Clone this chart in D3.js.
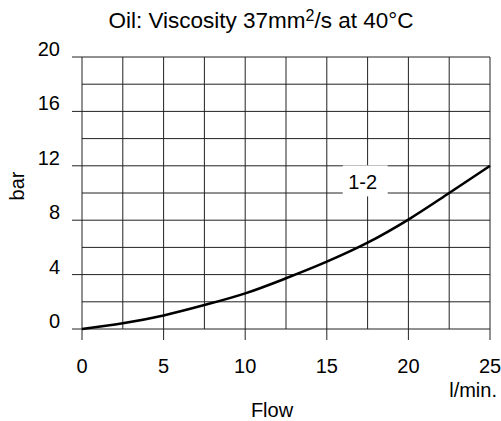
<!DOCTYPE html>
<html>
<head>
<meta charset="utf-8">
<script src="https://cdn.jsdelivr.net/npm/d3@7"></script>
<style>
  html, body { margin: 0; padding: 0; background: #fff; }
  svg { display: block; }
  text { font-family: "Liberation Sans", Arial, sans-serif; fill: #000; }
</style>
</head>
<body>
<script>
// ---- data ----
const flow = [0, 2.5, 5, 7.5, 10, 12.5, 15, 17.5, 20, 22.5, 25];
const pressure = [0, 0.42, 1.0, 1.76, 2.62, 3.73, 4.95, 6.35, 8.05, 10.0, 12.0];
const xTicks = [0, 5, 10, 15, 20, 25];
const xMinor = [2.5, 7.5, 12.5, 17.5, 22.5];
const yTicks = [0, 4, 8, 12, 16, 20];
const yMinor = [2, 6, 10, 14, 18];
const curveLabel = ["1-2"];
const curveLabelPos = [17.2, 11.0];

const W = 501, H = 421;
const svg = d3.select("body").append("svg").attr("width", W).attr("height", H);

const x = d3.scaleLinear().domain([0, 25]).range([82, 490]);
const y = d3.scaleLinear().domain([0, 20]).range([329, 57]);

const gridColor = "#222";
const g = svg.append("g");

// minor horizontal grid
g.selectAll("line.hmin").data(yMinor).join("line")
  .attr("x1", x(0)).attr("x2", x(25))
  .attr("y1", d => y(d)).attr("y2", d => y(d))
  .attr("stroke", gridColor).attr("stroke-width", 1);
// major horizontal grid with left tick
g.selectAll("line.hmaj").data(yTicks).join("line")
  .attr("x1", x(0) - 10).attr("x2", x(25))
  .attr("y1", d => y(d)).attr("y2", d => y(d))
  .attr("stroke", gridColor).attr("stroke-width", 1);
// minor vertical grid
g.selectAll("line.vmin").data(xMinor).join("line")
  .attr("x1", d => x(d)).attr("x2", d => x(d))
  .attr("y1", y(20)).attr("y2", y(0))
  .attr("stroke", gridColor).attr("stroke-width", 1);
// major vertical grid with bottom tick
g.selectAll("line.vmaj").data(xTicks).join("line")
  .attr("x1", d => x(d)).attr("x2", d => x(d))
  .attr("y1", y(20)).attr("y2", y(0) + 11)
  .attr("stroke", gridColor).attr("stroke-width", 1);

// tick labels
svg.selectAll("text.yt").data(yTicks).join("text")
  .attr("x", 60).attr("y", d => y(d) - 1)
  .attr("text-anchor", "end").attr("font-size", 20)
  .text(d => d);
svg.selectAll("text.xt").data(xTicks).join("text")
  .attr("x", d => x(d)).attr("y", 373)
  .attr("text-anchor", "middle").attr("font-size", 20)
  .text(d => d);

// axis titles
svg.append("text").attr("x", 497).attr("y", 397)
  .attr("text-anchor", "end").attr("font-size", 20).text("l/min.");
svg.append("text").attr("x", 272).attr("y", 417)
  .attr("text-anchor", "middle").attr("font-size", 20).text("Flow");
svg.append("text").attr("transform", "translate(24,186) rotate(-90)")
  .attr("text-anchor", "middle").attr("font-size", 20).text("bar");

// title
const t = svg.append("text").attr("x", 261).attr("y", 28)
  .attr("text-anchor", "middle").attr("font-size", 22.5);
t.append("tspan").text("Oil: Viscosity 37mm");
t.append("tspan").attr("font-size", 16).attr("dy", -7).text("2");
t.append("tspan").attr("dy", 7).text("/s at 40°C");

// curve label with white box
const lx = x(curveLabelPos[0]), ly = y(curveLabelPos[1]);
svg.append("rect").attr("x", lx - 20).attr("y", ly - 14)
  .attr("width", 45).attr("height", 31).attr("fill", "#fff");
svg.append("text").attr("x", lx).attr("y", ly + 10)
  .attr("text-anchor", "middle").attr("font-size", 20).text(curveLabel[0]);

// curve
const line = d3.line().x((d, i) => x(flow[i])).y(d => y(d)).curve(d3.curveMonotoneX);
svg.append("path").datum(pressure)
  .attr("d", line).attr("fill", "none")
  .attr("stroke", "#000").attr("stroke-width", 2.6);
</script>
</body>
</html>
